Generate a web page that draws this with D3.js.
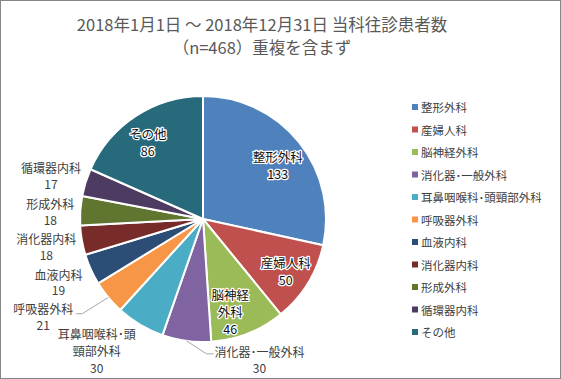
<!DOCTYPE html>
<html>
<head>
<meta charset="utf-8">
<script src="https://cdnjs.cloudflare.com/ajax/libs/d3/7.8.5/d3.min.js"></script>
<style>
  html, body { margin: 0; padding: 0; background: #fff; }
  svg { display: block; font-family: "Noto Sans CJK JP", "Noto Sans", sans-serif; }
</style>
</head>
<body>
<svg id="chart" width="561" height="379"></svg>
<script>
// ---- data ----
const titleLines = ["2018年1月1日 ～ 2018年12月31日 当科往診患者数", "（n=468）重複を含まず"];
const categories = ["整形外科", "産婦人科", "脳神経外科", "消化器･一般外科", "耳鼻咽喉科･頭頸部外科",
  "呼吸器外科", "血液内科", "消化器内科", "形成外科", "循環器内科", "その他"];
const values = [133, 50, 46, 30, 30, 21, 19, 18, 18, 17, 86];

// ---- layout / style ----
const colors = ["#4F81BD", "#C0504D", "#9BBB59", "#8064A2", "#4BACC6", "#F79646",
  "#2C4D75", "#772C2A", "#5F7530", "#4D3B62", "#276A7C"];
const insideLabel = [true, true, true, false, false, false, false, false, false, false, true];
const labelBreak = [0, 0, 3, 0, 7, 0, 0, 0, 0, 0, 0];
const labelNudge = [[0, 6], [1, 2], [-8, 3], [77, -11], [-28, 0], [-42, 0], [-5, 0], [-6, 1], [0, 3], [-6, 2], [-3, 3]];
const hasLeader = [false, false, false, true, false, true, false, false, false, false, false];

const W = 561, H = 379;
const cx = 203, cy = 219, R = 123;
const svg = d3.select("#chart");

svg.append("rect").attr("x", 0.5).attr("y", 0.5).attr("width", W - 1).attr("height", H - 1)
  .attr("fill", "#fff").attr("stroke", "#868686").attr("stroke-width", 1);

// title
svg.append("g").selectAll("text").data(titleLines).join("text")
  .attr("x", 262).attr("y", (d, i) => 31 + i * 23)
  .attr("text-anchor", "middle").attr("font-size", 16.5).attr("fill", "#595959")
  .text(d => d);

const pie = d3.pie().sort(null).value(d => d)(values);
const arc = d3.arc().innerRadius(0).outerRadius(R);
const g = svg.append("g").attr("transform", `translate(${cx},${cy})`);

g.selectAll("path").data(pie).join("path")
  .attr("d", arc)
  .attr("fill", (d, i) => colors[i])
  .attr("stroke", "#fff").attr("stroke-width", 2).attr("stroke-linejoin", "round");

function polar(a, r) { return [Math.sin(a) * r, -Math.cos(a) * r]; }

const labels = svg.append("g");
pie.forEach((d, i) => {
  const mid = (d.startAngle + d.endAngle) / 2;
  const inside = insideLabel[i];
  const rr = inside ? R * 0.78 : R + 30;
  const p = polar(mid, rr);
  const bx = cx + p[0] + labelNudge[i][0];
  const by = cy + p[1] + labelNudge[i][1];
  const name = categories[i];
  const lines = labelBreak[i] ? [name.slice(0, labelBreak[i]), name.slice(labelBreak[i])] : [name];
  lines.push(String(values[i]));
  const lh = (lines.length > 2 || inside) ? 17 : 15.5;
  const fs = inside ? 12.5 : 12;
  let firstW = 0;
  lines.forEach((ln, k) => {
    const t = labels.append("text").attr("text-anchor", "middle").attr("font-size", fs)
      .attr("x", bx).attr("y", by + (k - (lines.length - 1) / 2) * lh)
      .attr("dominant-baseline", "central").text(ln);
    if (inside) {
      t.attr("fill", "#111").attr("stroke", "#fff").attr("stroke-width", 2.5)
        .attr("stroke-linejoin", "round").attr("paint-order", "stroke");
    } else {
      t.attr("fill", "#404040");
    }
    if (k === 0) firstW = t.node().getComputedTextLength();
  });
  if (hasLeader[i]) {
    const y1 = by - (lines.length - 1) / 2 * lh;
    const e = polar(mid, R);
    const ex = cx + e[0], ey = cy + e[1];
    let pts;
    if (ex > bx) {
      const re = bx + firstW / 2;
      pts = [[ex, ey], [re + 9, y1 + 5], [re + 3, y1 + 5]];
    } else {
      const le = bx - firstW / 2;
      pts = [[ex, ey], [le - 8, y1 + 2], [le - 1, y1 + 2]];
    }
    labels.append("path").attr("d", d3.line()(pts))
      .attr("fill", "none").attr("stroke", "#A6A6A6").attr("stroke-width", 1);
  }
});

// legend
const lg = svg.append("g");
const items = lg.selectAll("g").data(categories).join("g")
  .attr("transform", (d, i) => `translate(412,${107 + i * 22.5})`);
items.append("rect").attr("x", 0).attr("y", -3).attr("width", 6).attr("height", 6)
  .attr("fill", (d, i) => colors[i]);
items.append("text").attr("x", 9).attr("y", 0).attr("dominant-baseline", "central")
  .attr("font-size", 11.5).attr("fill", "#404040").text(d => d);
</script>
</body>
</html>
